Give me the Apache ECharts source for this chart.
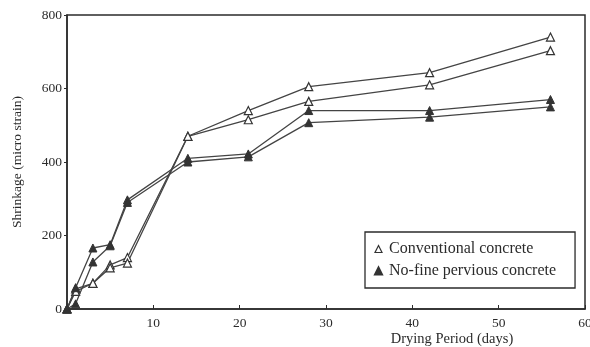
<!DOCTYPE html>
<html>
<head>
<meta charset="utf-8">
<script src="https://cdn.jsdelivr.net/npm/echarts@6/dist/echarts.min.js"></script>
<style>
  html, body { margin: 0; padding: 0; background: #fff; }
  #chart { width: 590px; height: 347px; }
</style>
</head>
<body>
<div id="chart"></div>
<script>
// Drying period (days) at which shrinkage was measured
const days = [0, 1, 3, 5, 7, 14, 21, 28, 42, 56];

// Shrinkage (micro strain), two specimens per mix
const conventionalA = [0, 55, 70, 120, 140, 470, 540, 605, 643, 740];
const conventionalB = [0, 48, 70, 112, 125, 470, 515, 565, 610, 703];
const noFineA = [0, 58, 166, 175, 297, 410, 422, 540, 540, 570];
const noFineB = [0, 14, 128, 172, 290, 400, 414, 507, 522, 550];

const xTicks = [0, 10, 20, 30, 40, 50, 60];
const yTicks = [0, 200, 400, 600, 800];

const CONV = 'Conventional concrete';
const NOFINE = 'No-fine pervious concrete';

const ink = '#2b2b2b';
const serif = '"Liberation Serif", "DejaVu Serif", serif';

function pairs(ys) {
  return days.map((d, i) => [d, ys[i]]);
}

function makeSeries(name, ys, filled) {
  return {
    name: name,
    type: 'line',
    data: pairs(ys),
    symbol: 'triangle',
    symbolSize: 8,
    showAllSymbol: true,
    lineStyle: { color: '#444', width: 1.3 },
    itemStyle: filled
      ? { color: '#333', borderColor: '#333', borderWidth: 1 }
      : { color: '#fff', borderColor: '#333', borderWidth: 1.2 },
    emphasis: { disabled: true },
    animation: false,
    z: filled ? 3 : 2
  };
}

const chart = echarts.init(document.getElementById('chart'), null, { renderer: 'canvas' });

chart.setOption({
  backgroundColor: '#fff',
  animation: false,
  textStyle: { fontFamily: serif, color: ink },
  grid: {
    left: 67, top: 15, right: 5, bottom: 38,
    outerBoundsMode: 'none',
    containLabel: false,
    show: true, borderColor: ink, borderWidth: 1.5, backgroundColor: 'transparent'
  },
  legend: {
    data: [
      { name: CONV, icon: 'triangle', itemStyle: { color: '#fff', borderColor: '#333', borderWidth: 1.2 } },
      { name: NOFINE, icon: 'triangle', itemStyle: { color: '#333', borderColor: '#333' } }
    ],
    orient: 'vertical',
    left: 365,
    top: 232,
    itemWidth: 7,
    itemHeight: 7,
    itemGap: 6,
    padding: [9, 19, 9, 9],
    borderColor: ink,
    borderWidth: 1.3,
    backgroundColor: '#fff',
    selectedMode: false,
    textStyle: { fontFamily: serif, fontSize: 16, color: ink, padding: [0, 0, 0, 2] }
  },
  xAxis: {
    type: 'value',
    min: xTicks[0],
    max: xTicks[xTicks.length - 1],
    interval: 10,
    name: 'Drying Period (days)',
    nameLocation: 'middle',
    nameGap: 23,
    nameMoveOverlap: false,
    nameTextStyle: { fontFamily: serif, fontSize: 14.5, color: ink, padding: [0, 0, 0, 252] },
    axisLine: { lineStyle: { color: ink, width: 1.5 } },
    axisTick: { inside: true, length: 4, lineStyle: { color: ink } },
    splitLine: { show: false },
    axisLabel: {
      fontFamily: serif,
      fontSize: 13.5,
      color: ink,
      margin: 7,
      formatter: v => (v === 0 ? '' : String(v))
    }
  },
  yAxis: {
    type: 'value',
    min: yTicks[0],
    max: yTicks[yTicks.length - 1],
    interval: 200,
    name: 'Shrinkage (micro strain)',
    nameLocation: 'middle',
    nameGap: 43,
    nameRotate: 90,
    nameMoveOverlap: false,
    nameTextStyle: { fontFamily: serif, fontSize: 13.5, color: ink },
    axisLine: { lineStyle: { color: ink, width: 1.5 } },
    axisTick: { inside: false, length: 3, lineStyle: { color: ink } },
    splitLine: { show: false },
    axisLabel: { fontFamily: serif, fontSize: 13.5, color: ink, margin: 5 }
  },
  series: [
    makeSeries(CONV, conventionalA, false),
    makeSeries(CONV, conventionalB, false),
    makeSeries(NOFINE, noFineA, true),
    makeSeries(NOFINE, noFineB, true)
  ]
});
</script>
</body>
</html>
